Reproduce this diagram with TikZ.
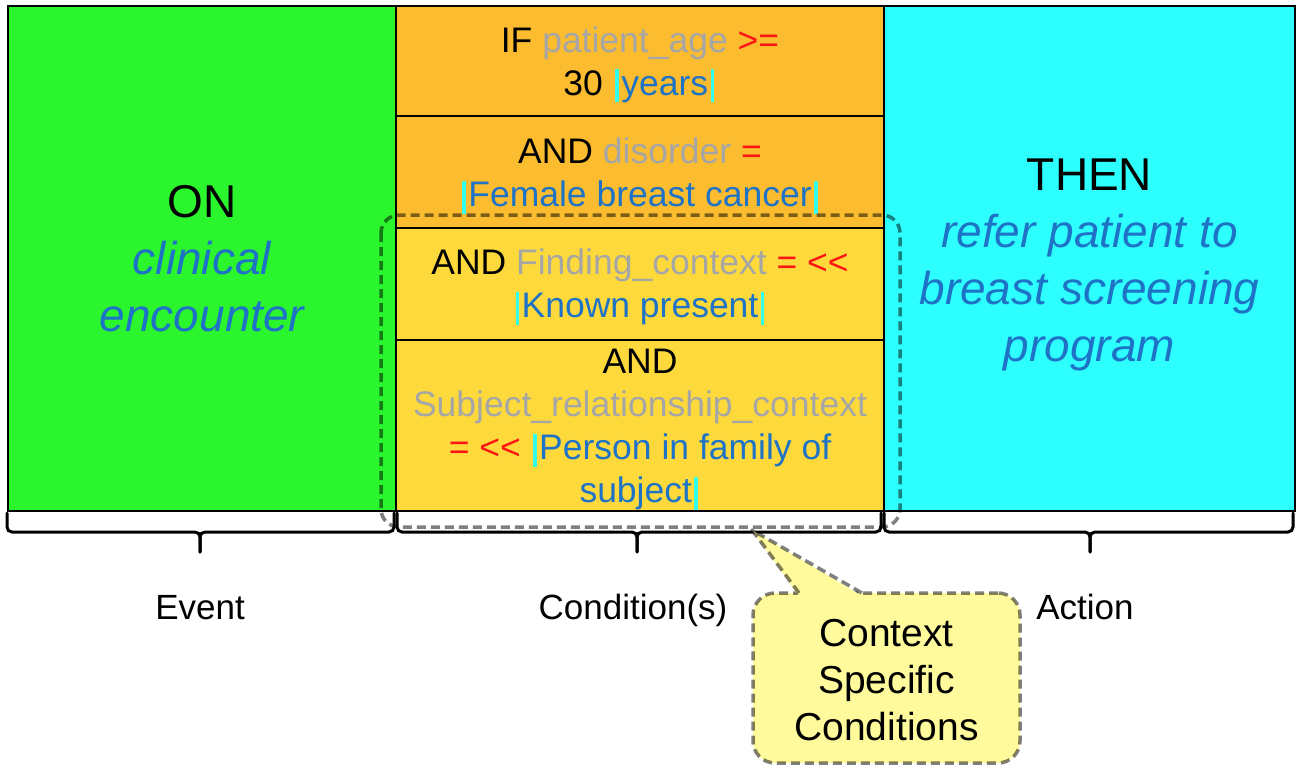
\documentclass[tikz,border=0pt]{standalone}
\usepackage{fontspec}
\setmainfont{Liberation Sans}
\usetikzlibrary{calc}
\definecolor{evgreen}{RGB}{42,245,45}
\definecolor{corange}{RGB}{251,188,47}
\definecolor{cyellow}{RGB}{253,217,60}
\definecolor{acyan}{RGB}{45,255,255}
\definecolor{tblue}{RGB}{30,115,198}
\definecolor{tgrey}{RGB}{166,166,166}
\definecolor{tred}{RGB}{255,20,20}
\definecolor{barcyan}{RGB}{50,255,235}
\definecolor{callfill}{RGB}{255,250,156}
\newcommand\cbar{\kern0.07em{\color{barcyan}\rule[-0.2em]{0.1em}{0.93em}}\kern0.07em}
\newcommand\tb[1]{\textcolor{tblue}{#1}}
\newcommand\tg[1]{\textcolor{tgrey}{#1}}
\newcommand\tr[1]{\textcolor{tred}{#1}}
\newcommand\up[1]{\rule{0pt}{#1}}
\newcommand\mybrace[3]{%
  \draw[brc] (#1,-513) -- (#1,-527) to[out=-90,in=180] ({#1+5},-532) -- ({#2-5},-532) to[out=0,in=90] (#2,-537) -- (#2,-552);
  \draw[brc] (#2,-552) -- (#2,-537) to[out=90,in=180] ({#2+5},-532) -- ({#3-5},-532) to[out=0,in=-90] (#3,-527) -- (#3,-513);}
\tikzset{
  box/.style={draw=black, line width=2, inner sep=0pt, anchor=north west, align=center},
  cond/.style={box, minimum width=488, font=\fontsize{35.5}{43}\selectfont},
  big/.style={font=\fontsize{46}{57}\selectfont},
  lbl/.style={font=\fontsize{35}{42}\selectfont, inner sep=0pt, anchor=base},
  brc/.style={draw=black, line width=3, line cap=round},
  dsh/.style={draw=black, draw opacity=0.5, line width=3.5, dash pattern=on 9pt off 5pt},
}
\begin{document}
\begin{tikzpicture}[x=1pt,y=1pt]
\useasboundingbox[fill=white] (0,0) rectangle (1298,-765);
% main boxes
\node[box, big, fill=evgreen, minimum width=388, minimum height=505] (ev) at (7,-5)
  {ON\\\tb{\itshape clinical}\\\tb{\itshape encounter}};
\node[cond, fill=corange, minimum height=110] (c1) at (395,-5)
  {\up{33pt}IF \tg{patient\_age} \tr{>=}\\30 \cbar\tb{years}\cbar};
\node[cond, fill=corange, minimum height=112] (c2) at (395,-115)
  {\up{33pt}AND \tg{disorder} \tr{=}\\\cbar\tb{Female breast cancer}\cbar};
\node[cond, fill=cyellow, minimum height=112] (c3) at (395,-227)
  {\up{32pt}AND \tg{Finding\_context} \tr{= <{}<}\\\cbar\tb{Known present}\cbar};
\node[cond, fill=cyellow, minimum height=171] (c4) at (395,-339)
  {\up{33pt}AND\\\tg{Subject\_relationship\_context}\\\tr{= <{}<} \cbar\tb{Person in family of}\\\tb{subject}\cbar};
\node[box, big, fill=acyan, minimum width=411, minimum height=505] (act) at (883,-5)
  {\up{44pt}THEN\\\tb{\itshape refer patient to}\\\tb{\itshape breast screening}\\\tb{\itshape program}};
% braces
\mybrace{7}{200}{394}
\mybrace{397}{637}{881}
\mybrace{884}{1090}{1293}
% labels
\node[lbl] (levent) at (200,-619.5) {Event};
\node[lbl] (lcond) at (633,-619.5) {Condition(s)};
\node[lbl] (lact) at (1085,-619.5) {Action};
% context box
\coordinate (ctxa) at (381,-215);
\coordinate (ctxb) at (900,-527);
\draw[dsh, rounded corners=18] (ctxa) rectangle (ctxb);
% callout
\node[dsh, fill=callfill, rounded corners=22, minimum width=267, minimum height=170, inner sep=0pt,
  align=center, font=\fontsize{39}{47}\selectfont] (call) at (886.5,-678)
  {\up{32pt}Context\\Specific\\Conditions};
\coordinate (tip) at (752,-530);
\coordinate (pa) at (799,-593);
\coordinate (pb) at (862,-593);
\fill[callfill] ($(pa)+(0,-3)$) -- (tip) -- ($(pb)+(0,-3)$) -- cycle;
\draw[dsh, line join=round] (pa) -- (tip) -- (pb);
\end{tikzpicture}
\end{document}
